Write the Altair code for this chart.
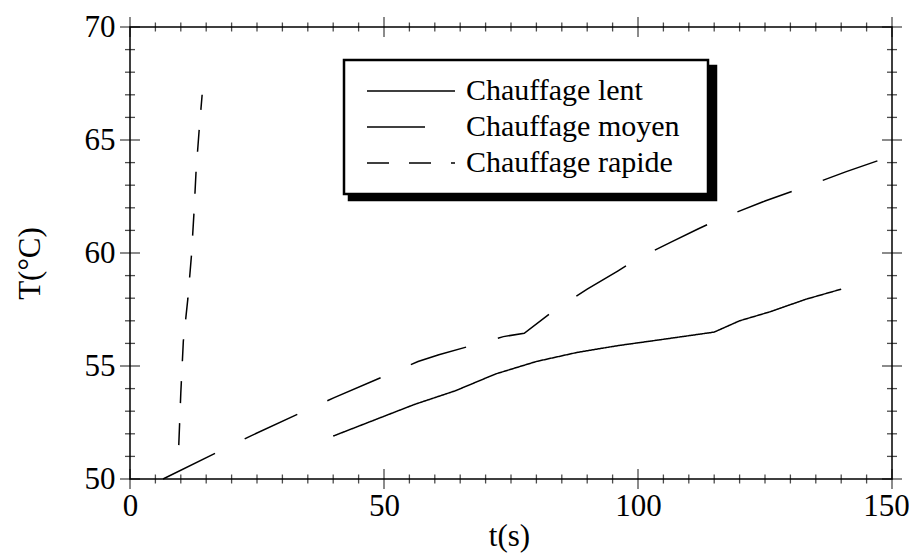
import altair as alt
import pandas as pd

# ---- data ----
series_names = ["Chauffage lent", "Chauffage moyen", "Chauffage rapide"]

lent_t = [40, 48, 56, 64, 72, 80, 88, 96, 104, 115, 120, 126, 133, 140]
lent_T = [51.9, 52.6, 53.3, 53.9, 54.65, 55.2, 55.6, 55.9, 56.15, 56.5, 57.0, 57.4, 57.95, 58.4]

moyen_t = [6.5, 17.3, 23.7, 34.3, 40.2, 50.6, 56.7, 60.8, 67.2, 73.5, 77.6, 83.7, 90, 96,
           100.3, 106.7, 111.8, 116, 125, 135, 141, 150]
moyen_T = [50.0, 51.2, 51.9, 53.0, 53.6, 54.6, 55.2, 55.5, 55.9, 56.3, 56.45, 57.5, 58.4, 59.2,
           59.8, 60.5, 61.06, 61.5, 62.3, 63.1, 63.6, 64.3]

rapide_t = [9.6, 10.0, 10.5, 11.4, 12.1, 12.6, 13.0, 13.6, 14.2]
rapide_T = [51.5, 53.8, 56.1, 58.0, 59.9, 61.8, 63.6, 65.4, 67.0]

x_major = [0, 50, 100, 150]
x_minor = [5, 10, 15, 20, 25, 30, 35, 40, 45, 55, 60, 65, 70, 75, 80, 85, 90, 95,
           105, 110, 115, 120, 125, 130, 135, 140, 145]
y_major = [50, 55, 60, 65, 70]
y_minor = [51, 52, 53, 54, 56, 57, 58, 59, 61, 62, 63, 64, 66, 67, 68, 69]

rows = []
for name, ts, Ts in zip(series_names, [lent_t, moyen_t, rapide_t], [lent_T, moyen_T, rapide_T]):
    for i, (a, b) in enumerate(zip(ts, Ts)):
        rows.append({"t": a, "T": b, "serie": name, "s2": name, "i": i})
df = pd.DataFrame(rows)

FONT = "Liberation Serif"
FS = 31
LFS = 30

xs = alt.Scale(domain=[0, 150], nice=False, zero=False)
ys = alt.Scale(domain=[50, 70], nice=False, zero=False)

legend_common = dict(
    orient="none", symbolType="stroke", symbolStrokeWidth=1.5,
    symbolStrokeColor="black", symbolOffset=9, labelFont=FONT, labelFontSize=LFS,
    labelOffset=10, clipHeight=36, rowPadding=0, padding=13, labelLimit=500,
    title="\u2002", titleOrient="right", titleFont=FONT, titleFontSize=LFS,
    titlePadding=15,
)

lines = alt.Chart(df).mark_line(color="black", strokeWidth=1.5).encode(
    x=alt.X("t:Q", scale=xs, axis=alt.Axis(
        values=x_major, ticks=False, tickSize=0, domain=False, grid=False,
        labelFlush=False, labelFont=FONT, labelFontSize=FS, labelPadding=12,
        labelColor="black",
        labelOffset={"condition": {"test": "datum.value === 150", "value": -6}, "value": 0},
        title="t(s)", titleFont=FONT, titleFontSize=FS, titleFontWeight="normal",
        titleColor="black", titleX=379, titleY=57, titleBaseline="middle")),
    y=alt.Y("T:Q", scale=ys, axis=alt.Axis(
        values=y_major, ticks=False, tickSize=0, domain=False, grid=False,
        labelFlush=False, labelFont=FONT, labelFontSize=FS, labelPadding=15,
        labelColor="black",
        title="T(°C)", titleFont=FONT, titleFontSize=FS, titleFontWeight="normal",
        titleColor="black", titleAngle=270, titleX=-100, titleY=236,
        titleAlign="center", titleBaseline="middle")),
    strokeDash=alt.StrokeDash("serie:N", scale=alt.Scale(
        domain=series_names, range=[[1, 0], [58, 33], [22, 20]]),
        legend=alt.Legend(legendX=214, legendY=33, fillColor="white",
                          strokeColor="black", labelColor="black", titleColor="black",
                          symbolSize=88 * 88, zindex=2, **legend_common)),
    # drop shadow of the legend box: same box size, no label text
    color=alt.Color("s2:N", scale=alt.Scale(range=["black"]),
                    legend=alt.Legend(legendX=219, legendY=39, fillColor="black",
                                      strokeColor="black", labelExpr="''",
                                      symbolSize=305 * 305, titleOpacity=0,
                                      zindex=1, **legend_common)),
    order="i:Q",
)


def xticks(vals, yval, size):
    return alt.Chart(pd.DataFrame({"t": vals})).mark_tick(
        orient="vertical", size=size, thickness=1.3, color="black").encode(
        x=alt.X("t:Q", scale=xs), y=alt.datum(yval))


def yticks(vals, xval, size):
    return alt.Chart(pd.DataFrame({"T": vals})).mark_tick(
        orient="horizontal", size=size, thickness=1.3, color="black").encode(
        y=alt.Y("T:Q", scale=ys), x=alt.datum(xval))


layers = [
    xticks(x_minor, 50, 9), xticks(x_major, 50, 20),
    xticks(x_minor, 70, 9), xticks(x_major, 70, 20),
    yticks(y_minor, 0, 10), yticks(y_major, 0, 20),
    yticks(y_minor, 150, 10), yticks(y_major, 150, 20),
    lines,
]

chart = alt.layer(*layers).properties(
    width=762, height=452,
    autosize=alt.AutoSizeParams(type="none"),
    padding={"left": 122, "top": 19, "right": 17, "bottom": 77},
    background="white",
).configure_view(stroke="black", strokeWidth=1.5).configure_legend(strokeWidth=2.5)

chart.save("out.html", embed_options={"renderer": "svg", "actions": False})
